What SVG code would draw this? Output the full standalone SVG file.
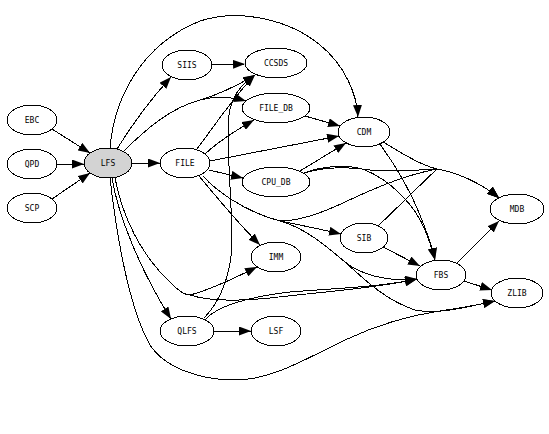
<svg xmlns="http://www.w3.org/2000/svg" width="549" height="434" viewBox="0 0 549 434">
<style>
.n ellipse{fill:#fff;stroke:#000;stroke-width:1;shape-rendering:crispEdges}
.n text{font-family:"DejaVu Sans Mono","Liberation Mono",monospace;font-size:8px;fill:#000;text-anchor:middle}
#edges path{fill:none;stroke:#000;stroke-width:1;shape-rendering:crispEdges;marker-end:url(#ah)}
</style>
<defs>
<marker id="ah" viewBox="0 0 12 9" refX="12" refY="4.5" markerWidth="12" markerHeight="9" markerUnits="userSpaceOnUse" orient="auto">
<path d="M0,0 L12,4.5 L0,9 z" fill="#000" stroke="none"/>
</marker>
</defs>
<rect width="549" height="434" fill="#fff"/>
<g id="edges">
<path d="M52,129 L90,153"/>
<path d="M57,164 L84,164"/>
<path d="M52,199 L90,173"/>
<path d="M132,163 L160,163"/>
<path d="M117,149 C130,128 150,100 171,77"/>
<path d="M124,151 C145,130 170,108 200,100 C215,96 232,97 246,101"/>
<path d="M124,151 C145,130 170,108 200,100 C220,94 240,84 255,75"/>
<path d="M110,148 C114,100 140,45 200,21 C240,8 290,20 320,45 C345,65 357,95 358,117"/>
<path d="M112,178 C118,215 140,270 171,319"/>
<path d="M115,178 C122,215 140,255 173,285 C180,292 186,295 190,295 C210,290 235,278 257,267"/>
<path d="M115,178 C122,215 140,255 173,285 C180,292 186,295 190,295 C205,300 230,302 270,298 C320,292 380,288 417,279"/>
<path d="M205,320 C215,308 240,298 290,292 C340,288 380,287 417,279"/>
<path d="M204,318 C222,300 232,270 232,240 C232,200 226,150 229,115 C231,98 240,85 255,75"/>
<path d="M214,331 L251,331"/>
<path d="M212,65 L245,64"/>
<path d="M197,149 C215,125 235,95 255,75"/>
<path d="M205,154 C220,140 240,128 254,120"/>
<path d="M210,161 L339,136"/>
<path d="M209,170 L243,178"/>
<path d="M199,176 C215,195 235,220 260,245"/>
<path d="M203,176 C215,190 245,212 280,221 C300,225 320,229 341,234"/>
<path d="M203,176 C215,190 245,212 280,221 C300,221 320,214 345,202 C375,188 405,175 437,169 C455,172 480,182 499,198"/>
<path d="M203,176 C215,190 245,212 280,221 C305,228 325,245 345,262 C360,274 385,282 417,279"/>
<path d="M203,176 C215,190 245,212 280,221 C305,228 325,245 345,262 C365,280 385,300 415,310 C440,315 470,306 495,301"/>
<path d="M305,116 L340,126"/>
<path d="M300,171 L346,143"/>
<path d="M304,173 C320,167 345,163 365,170 C390,180 415,205 425,230 C430,242 433,252 435,260"/>
<path d="M304,173 C325,167 345,166 370,170 C395,172 420,170 437,169 C455,172 480,182 499,198"/>
<path d="M380,144 C395,165 410,190 420,215 C428,235 433,250 435,260"/>
<path d="M383,142 C400,152 420,165 437,169 C455,172 480,182 499,198"/>
<path d="M378,226 C395,210 420,185 437,169 C455,172 480,182 499,198"/>
<path d="M383,247 L420,266"/>
<path d="M457,263 L499,221"/>
<path d="M464,281 L492,290"/>
<path d="M110,178 C117,240 130,310 150,345 C165,368 200,380 235,380 C270,380 300,362 345,340 C375,326 405,316 440,311 C460,308 478,305 495,301"/>
</g>
<g id="EBC" class="n"><ellipse cx="32" cy="120" rx="25" ry="15"/><text x="32" y="123">EBC</text></g>
<g id="QPD" class="n"><ellipse cx="32" cy="164" rx="25" ry="15"/><text x="32" y="167">QPD</text></g>
<g id="SCP" class="n"><ellipse cx="32" cy="208" rx="25" ry="15"/><text x="32" y="211">SCP</text></g>
<g id="LFS" class="n"><ellipse cx="108" cy="163" rx="24" ry="15" style="fill:#d3d3d3"/><text x="108" y="166">LFS</text></g>
<g id="FILE" class="n"><ellipse cx="185" cy="163" rx="25" ry="15"/><text x="185" y="166">FILE</text></g>
<g id="SIIS" class="n"><ellipse cx="187" cy="65" rx="25" ry="15"/><text x="187" y="68">SIIS</text></g>
<g id="CCSDS" class="n"><ellipse cx="276" cy="63" rx="31" ry="15"/><text x="276" y="66">CCSDS</text></g>
<g id="FILE_DB" class="n"><ellipse cx="276" cy="108" rx="34" ry="15"/><text x="276" y="111">FILE_DB</text></g>
<g id="CDM" class="n"><ellipse cx="364" cy="132" rx="26" ry="15"/><text x="364" y="135">CDM</text></g>
<g id="CPU_DB" class="n"><ellipse cx="276" cy="182" rx="34" ry="15"/><text x="276" y="185">CPU_DB</text></g>
<g id="SIB" class="n"><ellipse cx="364" cy="238" rx="24" ry="15"/><text x="364" y="241">SIB</text></g>
<g id="FBS" class="n"><ellipse cx="441" cy="275" rx="25" ry="15"/><text x="441" y="278">FBS</text></g>
<g id="MDB" class="n"><ellipse cx="517" cy="209" rx="27" ry="15"/><text x="517" y="212">MDB</text></g>
<g id="ZLIB" class="n"><ellipse cx="517" cy="293" rx="26" ry="15"/><text x="517" y="296">ZLIB</text></g>
<g id="IMM" class="n"><ellipse cx="276" cy="257" rx="25" ry="15"/><text x="276" y="260">IMM</text></g>
<g id="QLFS" class="n"><ellipse cx="187" cy="331" rx="27" ry="15"/><text x="187" y="334">QLFS</text></g>
<g id="LSF" class="n"><ellipse cx="276" cy="331" rx="25" ry="15"/><text x="276" y="334">LSF</text></g>
</svg>
